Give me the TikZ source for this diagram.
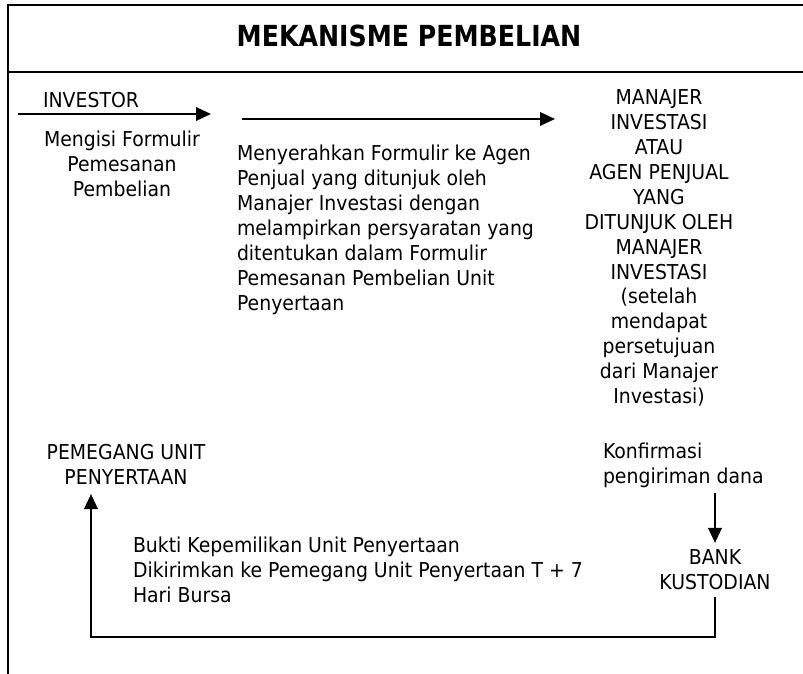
\documentclass[tikz,border=0pt]{standalone}
\usepackage{fontspec}
\setmainfont{DejaVu Sans}[FakeStretch=0.92]
\newfontfamily\judulfont{DejaVu Sans}[FakeStretch=0.87]
\usepackage{tikz}
\usetikzlibrary{arrows.meta, positioning}

\begin{document}
\begin{tikzpicture}[
        x=1pt, y=-1pt,
        teks/.style = {font=\fontsize{20.5}{24.9}\selectfont, inner sep=0pt, outer sep=0pt, align=center},
        judul/.style = {font=\judulfont\fontsize{29}{34}\selectfont\bfseries, inner sep=0pt},
        garis/.style = {line width=2pt},
        panah/.style = {line width=2pt, -{Triangle[length=15pt, width=13.5pt]}}
    ]

    \useasboundingbox (0,0) rectangle (803,674);

    \draw [garis] (803,5) -- (8,5) -- (8,674);
    \draw [garis] (8,72) -- (803,72);
    \node [judul] (judul) at (409,36) {MEKANISME PEMBELIAN};

    \node [teks] (investor) at (91,100) {INVESTOR};
    \node [teks] (mengisi) at (122,164) {Mengisi Formulir\\Pemesanan\\Pembelian};
    \node [teks, align=left, anchor=west] (serah) at (237,230)
        {Menyerahkan Formulir ke Agen\\Penjual yang ditunjuk oleh\\Manajer Investasi dengan\\melampirkan persyaratan yang\\ditentukan dalam Formulir\\Pemesanan Pembelian Unit\\Penyertaan};
    \node [teks] (manajer) at (659,248)
        {MANAJER\\INVESTASI\\ATAU\\AGEN PENJUAL\\YANG\\DITUNJUK OLEH\\MANAJER\\INVESTASI\\(setelah\\mendapat\\persetujuan\\dari Manajer\\Investasi)};

    \coordinate (mulai1) at (18,114);
    \coordinate (akhir1) at (211,114);
    \coordinate (mulai2) at (242,119);
    \coordinate (akhir2) at (555,119);
    \draw [panah] (mulai1) -- (akhir1);
    \draw [panah] (mulai2) -- (akhir2);

    \node [teks, inner ysep=9.5pt] (pemegang) at (126,464.5) {PEMEGANG UNIT\\PENYERTAAN};
    \node [teks, align=left, anchor=west] (konfirmasi) at (603,465) {Konfirmasi\\pengiriman dana};
    \node [teks, inner ysep=7pt] (bank) at (715,570) {BANK\\KUSTODIAN};
    \node [teks, align=left, anchor=west] (bukti) at (133,570)
        {Bukti Kepemilikan Unit Penyertaan\\Dikirimkan ke Pemegang Unit Penyertaan T + 7\\Hari Bursa};

    \coordinate (dana) at (715,493);
    \coordinate (sudut) at (91,637);
    \draw [panah] (dana) -- (bank.north);
    \draw [panah] (bank.south) |- (sudut) -- (sudut |- pemegang.south);

\end{tikzpicture}
\end{document}
